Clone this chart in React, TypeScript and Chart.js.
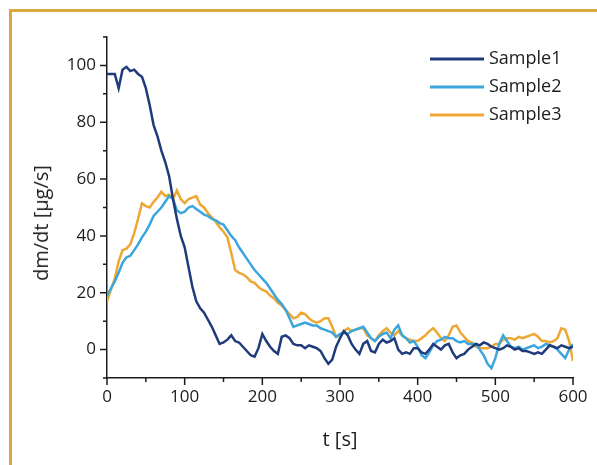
import React, { useEffect, useRef } from "react";
import { Chart, registerables } from "chart.js";

Chart.register(...registerables);

const timeSec = [
  0, 5, 10, 15, 20, 25, 30, 35, 40, 45, 50, 55, 60, 65, 70, 75, 80, 85, 90, 95,
  100, 105, 110, 115, 120, 125, 130, 135, 140, 145, 150, 155, 160, 165, 170, 175, 180, 185, 190, 195,
  200, 205, 210, 215, 220, 225, 230, 235, 240, 245, 250, 255, 260, 265, 270, 275, 280, 285, 290, 295,
  300, 305, 310, 315, 320, 325, 330, 335, 340, 345, 350, 355, 360, 365, 370, 375, 380, 385, 390, 395,
  400, 405, 410, 415, 420, 425, 430, 435, 440, 445, 450, 455, 460, 465, 470, 475, 480, 485, 490, 495,
  500, 505, 510, 515, 520, 525, 530, 535, 540, 545, 550, 555, 560, 565, 570, 575, 580, 585, 590, 595,
  600,
];

const sample1 = [
  97, 97, 97, 92, 98.5, 99.5, 98, 98.5, 97, 96, 92, 86, 79, 75, 70, 66, 61, 53, 46, 40,
  36, 29, 22, 17, 14.5, 13, 10.5, 8, 5, 2, 2.5, 3.5, 5, 3, 2.5, 1, -0.5, -2, -2.5, 0.5,
  5.5, 3, 1, -0.5, -1.5, 4.5, 5, 4, 2, 1.5, 1.5, 0.5, 1.5, 1, 0.5, -0.5, -3, -5, -3.5, 1,
  4, 6.5, 5, 2, 0, -1.5, 2, 3, -0.5, -1, 2, 3.5, 2.5, 3, 4, 0, -1.5, -1, -1.5, 0.5,
  0.5, -1, -1.5, 0, 2, 1, 0, 1.5, 2, -1, -3, -2, -1.5, 0, 1, 2, 1.5, 2.5, 2, 1,
  0.5, 0, 0.5, 1.5, 1, 0, 0.5, -0.5, -0.5, -1, -1.5, -1, -1.5, 0, 1.5, 1, 0.5, 1.5, 1, 0.5,
  1,
];

const sample2 = [
  19, 21.5, 24, 27, 30.5, 32.5, 33, 35, 37, 39.5, 41.5, 44, 47, 48.5, 50, 52, 54, 53, 49, 48,
  48.5, 50, 50.5, 49.5, 48.5, 47.5, 47, 46, 45.5, 44.5, 44, 42, 40, 38.5, 36, 34, 32, 30, 28, 26.5,
  25, 23.5, 21.5, 19.5, 17.5, 16, 14, 11, 8, 8.5, 9, 9.5, 9, 8.5, 8.5, 7.5, 7, 6.5, 6, 4.5,
  5.5, 6, 5.5, 6.5, 7, 7.5, 8, 6, 4, 3, 4.5, 5.5, 6, 4, 7, 8.5, 5, 4, 2.5, 3,
  1, -2, -3, -1, 1.5, 3, 3.5, 4.5, 4, 4, 3, 2.5, 3, 2, 2, 2, 0, -2, -5, -6.5,
  -3, 2, 5, 3, 1, 0.5, 1, 0, 0.5, 1, 1.5, 0.5, 1, 2, 1.5, 1, 0, -1.5, -3, 0,
  2,
];

const sample3 = [
  17, 21, 25, 31, 35, 35.5, 37, 41, 46, 51.5, 50.5, 50, 52, 53.5, 55.5, 54, 54.5, 53, 56, 53,
  51.5, 53, 53.5, 54, 51, 50, 48, 46.5, 45, 43, 41.5, 39.5, 34, 28, 27, 26.5, 25.5, 24, 23.5, 22,
  21, 20.5, 19, 18, 16.5, 15.5, 14, 12.5, 11, 11.5, 13, 12.5, 11, 10, 9.5, 10, 11, 11, 8, 4.5,
  5, 6.5, 7.5, 6.5, 7, 7.5, 7.5, 5, 4, 3, 5, 6.5, 7.5, 6, 5, 6.5, 5, 4, 3.5, 3,
  3, 4, 5, 6.5, 7.5, 6, 4, 3, 5, 8, 8.5, 6, 4.5, 3, 2.5, 1, 0.5, 0.5, 0.5, 1,
  2, 2, 3.5, 4, 4, 3.5, 4.5, 4, 4.5, 5, 5.5, 4.5, 3, 3, 2.5, 3, 4, 7.5, 7, 3,
  -4,
];

const seriesLabels = ["Sample1", "Sample2", "Sample3"];
const seriesColors = ["#1F3B7C", "#3BA6DD", "#EEA733"];

const xMajorTicks = [0, 100, 200, 300, 400, 500, 600];
const xMinorTicks = [50, 150, 250, 350, 450, 550];
const yMajorTicks = [0, 20, 40, 60, 80, 100];
const yMinorTicks = [-10, 10, 30, 50, 70, 90, 110];

const FONT = "'Open Sans', 'Noto Sans', sans-serif";
const INK = "#1c1c1c";

const decorPlugin = {
  id: "decor",
  afterDraw(chart: any) {
    const { ctx, chartArea, scales } = chart;
    const xs = scales.x;
    const ys = scales.y;
    ctx.save();
    ctx.strokeStyle = INK;
    ctx.lineWidth = 1.5;
    ctx.beginPath();
    const left = chartArea.left;
    const bottom = chartArea.bottom;
    yMajorTicks.forEach((v) => {
      const p = ys.getPixelForValue(v);
      ctx.moveTo(left - 7, p);
      ctx.lineTo(left, p);
    });
    yMinorTicks.forEach((v) => {
      const p = ys.getPixelForValue(v);
      ctx.moveTo(left - 4, p);
      ctx.lineTo(left, p);
    });
    xMajorTicks.forEach((v) => {
      const p = xs.getPixelForValue(v);
      ctx.moveTo(p, bottom);
      ctx.lineTo(p, bottom + 7);
    });
    xMinorTicks.forEach((v) => {
      const p = xs.getPixelForValue(v);
      ctx.moveTo(p, bottom);
      ctx.lineTo(p, bottom + 4);
    });
    ctx.stroke();

    // legend
    const lx = chartArea.right - 143;
    let ly = chartArea.top + 22;
    ctx.font = `18px ${FONT}`;
    ctx.textBaseline = "middle";
    ctx.textAlign = "left";
    chart.data.datasets.forEach((ds: any) => {
      ctx.strokeStyle = ds.borderColor;
      ctx.lineWidth = 3;
      ctx.beginPath();
      ctx.moveTo(lx, ly);
      ctx.lineTo(lx + 54, ly);
      ctx.stroke();
      ctx.fillStyle = INK;
      ctx.fillText(ds.label, lx + 59, ly);
      ly += 28;
    });
    ctx.restore();
  },
};

export default function App() {
  const canvasRef = useRef<HTMLCanvasElement | null>(null);

  useEffect(() => {
    if (!canvasRef.current) return;
    const seriesValues = [sample1, sample2, sample3];
    const chart = new Chart(canvasRef.current, {
      type: "line",
      data: {
        datasets: seriesValues.map((vals, i) => ({
          label: seriesLabels[i],
          data: timeSec.map((t, j) => ({ x: t, y: vals[j] })),
          borderColor: seriesColors[i],
          backgroundColor: seriesColors[i],
          borderWidth: 2.5,
          pointRadius: 0,
          tension: 0,
          fill: false,
        })),
      },
      options: {
        animation: false,
        responsive: false,
        devicePixelRatio: 1,
        layout: { padding: { top: 37, right: 24, left: 0, bottom: 0 } },
        plugins: {
          legend: { display: false },
          tooltip: { enabled: false },
        },
        scales: {
          x: {
            type: "linear",
            min: 0,
            max: 600,
            grid: { display: false, drawTicks: false },
            border: { display: true, color: INK, width: 1.5 },
            ticks: {
              padding: 9,
              color: INK,
              font: { family: FONT, size: 17 },
            },
            title: {
              display: true,
              text: "t [s]",
              color: INK,
              font: { family: FONT, size: 20 },
              padding: { top: 0, bottom: 13 },
            },
            afterBuildTicks: (scale: any) => {
              scale.ticks = xMajorTicks.map((v) => ({ value: v }));
            },
            afterFit: (scale: any) => {
              scale.height = 87;
            },
          },
          y: {
            type: "linear",
            min: -10,
            max: 110,
            grid: { display: false, drawTicks: false },
            border: { display: true, color: INK, width: 1.5 },
            ticks: {
              padding: 11,
              color: INK,
              font: { family: FONT, size: 17 },
            },
            afterBuildTicks: (scale: any) => {
              scale.ticks = yMajorTicks.map((v) => ({ value: v }));
            },
            afterFit: (scale: any) => {
              scale.width = 107;
            },
          },
        },
      },
      plugins: [decorPlugin],
    });
    return () => chart.destroy();
  }, []);

  return (
    <div
      style={{
        position: "fixed",
        left: 0,
        top: 0,
        width: 597,
        height: 465,
        background: "#ffffff",
        overflow: "hidden",
      }}
    >
      <div
        style={{
          position: "absolute",
          left: 9,
          top: 9,
          right: 0,
          bottom: 0,
          borderTop: "3px solid #DAAA3E",
          borderLeft: "3px solid #DAAA3E",
        }}
      />
      <canvas
        ref={canvasRef}
        width={597}
        height={465}
        style={{ position: "absolute", left: 0, top: 0, width: 597, height: 465, display: "block" }}
      />
      <div
        style={{
          position: "absolute",
          left: 41,
          top: 223,
          transform: "translate(-50%, -50%) rotate(-90deg)",
          whiteSpace: "nowrap",
          font: `20px ${FONT}`,
          color: INK,
          lineHeight: 1,
        }}
      >
        dm/dt [µg/s]
      </div>
    </div>
  );
}
